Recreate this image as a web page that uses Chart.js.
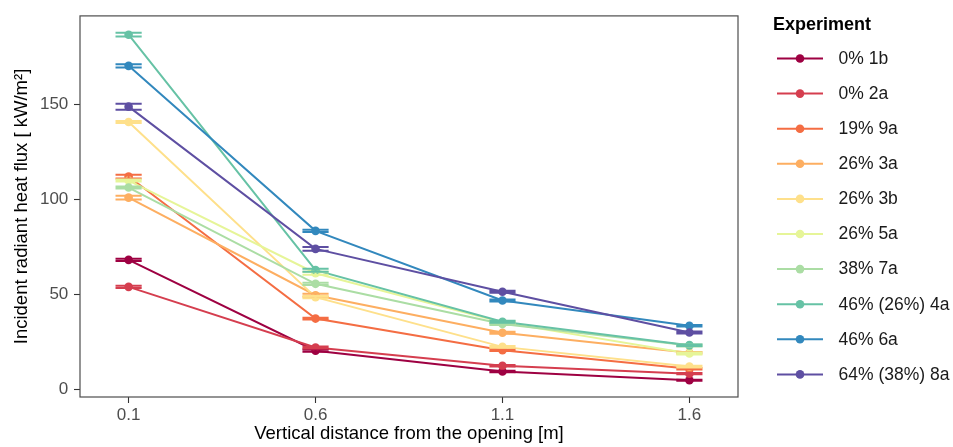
<!DOCTYPE html>
<html>
<head>
<meta charset="utf-8">
<script src="https://cdn.jsdelivr.net/npm/chart.js@4"></script>
<style>
  html, body { margin: 0; padding: 0; background: #ffffff; }
  #wrap { width: 953px; height: 447px; }
</style>
</head>
<body>
<div id="wrap"><canvas id="c" width="953" height="447"></canvas></div>
<script>
// Measurement positions (m above the opening) and their tick labels
const distances = [0.1, 0.6, 1.1, 1.6];
const distanceLabels = ['0.1', '0.6', '1.1', '1.6'];
const fluxTicks = [0, 50, 100, 150];

// Experiment names, in legend order
const experiments = ['0% 1b', '0% 2a', '19% 9a', '26% 3a', '26% 3b', '26% 5a', '38% 7a', '46% (26%) 4a', '46% 6a', '64% (38%) 8a'];

// Mean incident radiant heat flux [kW/m²] at each distance
const flux1b = [68.2, 20.4, 9.4, 4.8];
const flux2a = [54.0, 22.1, 12.4, 8.3];
const flux9a = [112.1, 37.3, 20.6, 10.9];
const flux3a = [101.0, 49.6, 29.8, 19.3];
const flux3b = [140.8, 48.6, 22.4, 12.0];
const flux5a = [110.0, 61.2, 35.3, 18.9];
const flux7a = [106.3, 55.6, 34.4, 23.1];
const flux4a = [186.8, 62.8, 35.6, 23.3];
const flux6a = [170.4, 83.5, 46.8, 33.5];
const flux8a = [148.9, 74.0, 51.4, 30.0];

// Half-range of the error bars [kW/m²]
const err1b = [0.6, 0.6, 0.4, 0.3];
const err2a = [0.6, 0.5, 0.4, 0.3];
const err9a = [1.0, 0.5, 0.4, 0.4];
const err3a = [1.0, 0.8, 0.5, 0.4];
const err3b = [0.5, 0.6, 0.5, 0.4];
const err5a = [0.5, 0.8, 0.6, 0.5];
const err7a = [0.5, 0.6, 0.5, 0.5];
const err4a = [1.0, 0.8, 0.5, 0.4];
const err6a = [0.9, 0.6, 0.5, 0.4];
const err8a = [1.6, 1.0, 0.5, 0.5];

// Spectral palette, one colour per experiment
const palette = ['#9E0142', '#D53E4F', '#F46D43', '#FDAE61', '#FEE08B', '#E6F598', '#ABDDA4', '#66C2A5', '#3288BD', '#5E4FA2'];

const fluxSeries = [flux1b, flux2a, flux9a, flux3a, flux3b, flux5a, flux7a, flux4a, flux6a, flux8a];
const errSeries = [err1b, err2a, err9a, err3a, err3b, err5a, err7a, err4a, err6a, err8a];

const FONT = '"Liberation Sans", Arial, Helvetica, sans-serif';
const LINE_W = 2;
const CAP_HALF = 0.035; // half width of error bar caps, in x units

const datasets = experiments.map((name, i) => ({
  label: name,
  data: distances.map((d, j) => ({ x: d, y: fluxSeries[i][j] })),
  errors: errSeries[i],
  borderColor: palette[i],
  backgroundColor: palette[i],
  pointBackgroundColor: palette[i],
  pointBorderWidth: 0,
  pointRadius: 4.3,
  pointHoverRadius: 4.3,
  borderWidth: LINE_W,
  tension: 0,
  fill: false,
  order: experiments.length - i
}));

// Vertical error bars with horizontal caps
const errorBars = {
  id: 'errorBars',
  afterDatasetsDraw(chart) {
    const { ctx, scales: { x, y } } = chart;
    ctx.save();
    ctx.lineWidth = LINE_W;
    chart.data.datasets.forEach(ds => {
      ctx.strokeStyle = ds.borderColor;
      ds.data.forEach((p, j) => {
        const e = ds.errors[j];
        const xc = x.getPixelForValue(p.x);
        const xl = x.getPixelForValue(p.x - CAP_HALF);
        const xr = x.getPixelForValue(p.x + CAP_HALF);
        const yt = y.getPixelForValue(p.y + e);
        const yb = y.getPixelForValue(p.y - e);
        ctx.beginPath();
        ctx.moveTo(xl, yt); ctx.lineTo(xr, yt);
        ctx.moveTo(xl, yb); ctx.lineTo(xr, yb);
        ctx.moveTo(xc, yt); ctx.lineTo(xc, yb);
        ctx.stroke();
      });
    });
    ctx.restore();
  }
};

// Panel border and the experiment legend
const frameAndLegend = {
  id: 'frameAndLegend',
  afterDraw(chart) {
    const { ctx, chartArea: a } = chart;
    ctx.save();
    ctx.strokeStyle = '#4d4d4d';
    ctx.lineWidth = 1.2;
    ctx.strokeRect(a.left, a.top, a.right - a.left, a.bottom - a.top);

    ctx.fillStyle = '#000000';
    ctx.textBaseline = 'middle';
    ctx.textAlign = 'left';
    ctx.font = 'bold 18px ' + FONT;
    ctx.fillText('Experiment', 773, 25);

    ctx.font = '17.5px ' + FONT;
    chart.data.datasets.forEach((ds, i) => {
      const yy = 58.5 + i * 35.1;
      ctx.strokeStyle = ds.borderColor;
      ctx.lineWidth = LINE_W;
      ctx.beginPath();
      ctx.moveTo(777, yy); ctx.lineTo(823, yy);
      ctx.stroke();
      ctx.fillStyle = ds.borderColor;
      ctx.beginPath();
      ctx.arc(800, yy, 4.3, 0, Math.PI * 2);
      ctx.fill();
      ctx.fillStyle = '#1a1a1a';
      ctx.fillText(ds.label, 838.5, yy + 0.5);
    });
    ctx.restore();
  }
};

new Chart(document.getElementById('c'), {
  type: 'line',
  data: { datasets },
  plugins: [errorBars, frameAndLegend],
  options: {
    responsive: false,
    animation: false,
    devicePixelRatio: 1,
    layout: { padding: { top: 10, right: 215, left: 0, bottom: 0 } },
    plugins: { legend: { display: false }, tooltip: { enabled: false } },
    scales: {
      x: {
        type: 'linear',
        min: -0.03,
        max: 1.73,
        afterBuildTicks: s => { s.ticks = distances.map(v => ({ value: v })); },
        afterFit: s => { s.height = 50; },
        ticks: {
          autoSkip: false,
          maxRotation: 0,
          padding: 2,
          color: '#4d4d4d',
          font: { family: FONT, size: 17 },
          callback: v => distanceLabels[distances.indexOf(v)]
        },
        grid: { drawOnChartArea: false, drawTicks: true, tickLength: 6, tickColor: '#333333', tickWidth: 1.1 },
        border: { display: false },
        title: {
          display: true,
          text: 'Vertical distance from the opening [m]',
          color: '#000000',
          font: { family: FONT, size: 18.5 },
          padding: { top: 0, bottom: 2.4 }
        }
      },
      y: {
        type: 'linear',
        min: -4,
        max: 196.7,
        afterBuildTicks: s => { s.ticks = fluxTicks.map(v => ({ value: v })); },
        afterFit: s => { s.width = 80; },
        ticks: {
          padding: 5.7,
          color: '#4d4d4d',
          font: { family: FONT, size: 17 },
          callback: v => String(v)
        },
        grid: { drawOnChartArea: false, drawTicks: true, tickLength: 6, tickColor: '#333333', tickWidth: 1.1 },
        border: { display: false },
        title: {
          display: true,
          text: 'Incident radiant heat flux [ kW/m²]',
          color: '#000000',
          font: { family: FONT, size: 18.5 },
          padding: { top: 11, bottom: 0 }
        }
      }
    }
  }
});
</script>
</body>
</html>
